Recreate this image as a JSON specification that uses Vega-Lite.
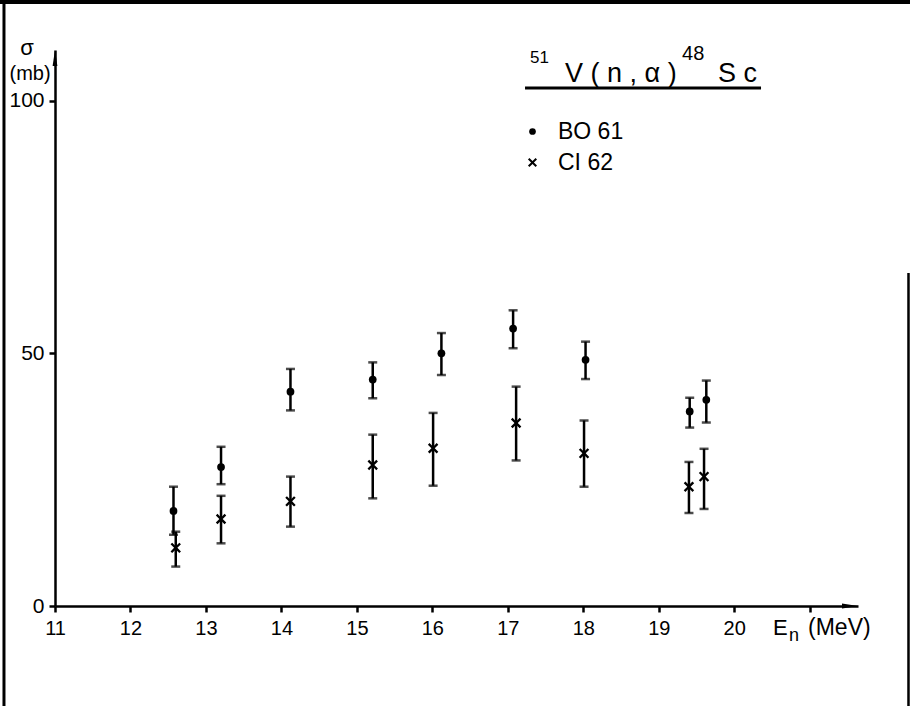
{
  "$schema": "https://vega.github.io/schema/vega-lite/v6.json",
  "width": 803,
  "height": 556,
  "autosize": {"type": "none"},
  "padding": {"left": 55, "top": 50, "right": 52, "bottom": 100},
  "background": "white",
  "config": {"view": {"stroke": null}, "font": "Liberation Sans", "text": {"color": "black", "font": "Liberation Sans"}},
  "datasets": {
    "points": [
      {"E": 12.57, "sigma": 18.8, "lo": 14.1, "hi": 23.6, "series": "BO 61"},
      {"E": 13.2, "sigma": 27.5, "lo": 24.1, "hi": 31.5, "series": "BO 61"},
      {"E": 14.12, "sigma": 42.4, "lo": 38.7, "hi": 46.9, "series": "BO 61"},
      {"E": 15.21, "sigma": 44.8, "lo": 41.1, "hi": 48.2, "series": "BO 61"},
      {"E": 16.12, "sigma": 50.0, "lo": 45.7, "hi": 54.0, "series": "BO 61"},
      {"E": 17.07, "sigma": 54.9, "lo": 51.0, "hi": 58.5, "series": "BO 61"},
      {"E": 18.03, "sigma": 48.7, "lo": 44.9, "hi": 52.3, "series": "BO 61"},
      {"E": 19.41, "sigma": 38.5, "lo": 35.3, "hi": 41.2, "series": "BO 61"},
      {"E": 19.63, "sigma": 40.8, "lo": 36.3, "hi": 44.6, "series": "BO 61"},
      {"E": 12.6, "sigma": 11.5, "lo": 7.8, "hi": 14.7, "series": "CI 62"},
      {"E": 13.2, "sigma": 17.2, "lo": 12.4, "hi": 21.8, "series": "CI 62"},
      {"E": 14.12, "sigma": 20.7, "lo": 15.7, "hi": 25.6, "series": "CI 62"},
      {"E": 15.21, "sigma": 27.9, "lo": 21.3, "hi": 33.9, "series": "CI 62"},
      {"E": 16.01, "sigma": 31.2, "lo": 23.8, "hi": 38.2, "series": "CI 62"},
      {"E": 17.11, "sigma": 36.2, "lo": 28.8, "hi": 43.4, "series": "CI 62"},
      {"E": 18.01, "sigma": 30.2, "lo": 23.6, "hi": 36.7, "series": "CI 62"},
      {"E": 19.4, "sigma": 23.6, "lo": 18.4, "hi": 28.5, "series": "CI 62"},
      {"E": 19.6, "sigma": 25.6, "lo": 19.2, "hi": 31.1, "series": "CI 62"}
    ]
  },
  "layer": [
    {
      "data": {"name": "points"},
      "mark": {"type": "rule", "color": "black", "strokeWidth": 2.5},
      "encoding": {
        "x": {"field": "E", "type": "quantitative",
          "scale": {"domain": [11, 21.64], "nice": false, "zero": false},
          "axis": {"title": null, "values": [11, 12, 13, 14, 15, 16, 17, 18, 19, 20, 21], "format": "d",
            "labelExpr": "datum.value > 20.5 ? '' : datum.label",
            "grid": false, "domainColor": "black", "domainWidth": 2.5, "tickColor": "black", "tickWidth": 2.5, "tickSize": 6,
            "labelFontSize": 20, "labelColor": "black", "labelPadding": 6, "labelFlush": false, "labelOverlap": false, "labelFont": "Liberation Sans"}},
        "y": {"field": "lo", "type": "quantitative",
          "scale": {"domain": [0, 110], "nice": false, "zero": false},
          "axis": {"title": null, "values": [0, 50, 100], "grid": false, "domainColor": "black", "domainWidth": 2.5,
            "tickColor": "black", "tickWidth": 2.5, "tickSize": 6, "labelFontSize": 21, "labelColor": "black",
            "labelPadding": 5, "labelFont": "Liberation Sans"}},
        "y2": {"field": "hi"}
      }
    },
    {
      "data": {"name": "points"},
      "mark": {"type": "tick", "orient": "horizontal", "color": "black", "size": 9, "thickness": 2.5},
      "encoding": {
        "x": {"field": "E", "type": "quantitative"},
        "y": {"field": "lo", "type": "quantitative"}
      }
    },
    {
      "data": {"name": "points"},
      "mark": {"type": "tick", "orient": "horizontal", "color": "black", "size": 9, "thickness": 2.5},
      "encoding": {
        "x": {"field": "E", "type": "quantitative"},
        "y": {"field": "hi", "type": "quantitative"}
      }
    },
    {
      "data": {"name": "points"},
      "mark": {"type": "point", "filled": true, "color": "black", "opacity": 1, "size": 60},
      "encoding": {
        "x": {"field": "E", "type": "quantitative"},
        "y": {"field": "sigma", "type": "quantitative"},
        "shape": {"field": "series", "type": "nominal",
          "scale": {"domain": ["BO 61", "CI 62"], "range": ["circle", "M0.919,-1.343L1.343,-0.919L0.424,0L1.343,0.919L0.919,1.343L0,0.424L-0.919,1.343L-1.343,0.919L-0.424,0L-1.343,-0.919L-0.919,-1.343L0,-0.424Z"]},
          "legend": {"orient": "none", "legendX": 466, "legendY": 70, "title": null, "labelFontSize": 23,
            "labelFont": "Liberation Sans", "labelColor": "black", "symbolSize": 45, "symbolFillColor": "black",
            "symbolStrokeWidth": 0, "labelOffset": 14, "rowPadding": 7, "padding": 0}}
      }
    },
    {
      "data": {"values": [{}]},
      "mark": {"type": "rule", "color": "black", "strokeWidth": 4},
      "encoding": {"x": {"datum": 10.271}, "x2": {"datum": 22.329}, "y": {"datum": 119.5}}
    },
    {
      "data": {"values": [{}]},
      "mark": {"type": "rule", "color": "black", "strokeWidth": 3},
      "encoding": {"x": {"datum": 10.324}, "y": {"datum": 119.5}, "y2": {"datum": -19.78}}
    },
    {
      "data": {"values": [{}]},
      "mark": {"type": "rule", "color": "black", "strokeWidth": 2.5},
      "encoding": {"x": {"datum": 22.309}, "y": {"datum": 65.88}, "y2": {"datum": -19.78}}
    },
    {
      "data": {"values": [{}]},
      "mark": {"type": "point", "shape": "M1,0L-1,-0.3L-1,0.3Z", "size": 256, "filled": true, "color": "black", "opacity": 1},
      "encoding": {"x": {"datum": 21.534}, "y": {"datum": 0}}
    },
    {
      "data": {"values": [{}]},
      "mark": {"type": "point", "shape": "M0,-1L-0.3,1L0.3,1Z", "size": 256, "filled": true, "color": "black", "opacity": 1},
      "encoding": {"x": {"datum": 11}, "y": {"datum": 108.42}}
    },
    {
      "data": {"values": [{}]},
      "mark": {"type": "text", "text": "51", "fontSize": 17, "align": "left", "baseline": "alphabetic"},
      "encoding": {"x": {"datum": 17.294}, "y": {"datum": 107.43}}
    },
    {
      "data": {"values": [{}]},
      "mark": {"type": "text", "text": "V ( n , α )", "fontSize": 27, "align": "left", "baseline": "alphabetic"},
      "encoding": {"x": {"datum": 17.758}, "y": {"datum": 103.67}}
    },
    {
      "data": {"values": [{}]},
      "mark": {"type": "text", "text": "48", "fontSize": 20, "align": "left", "baseline": "alphabetic"},
      "encoding": {"x": {"datum": 19.308}, "y": {"datum": 108.02}}
    },
    {
      "data": {"values": [{}]},
      "mark": {"type": "text", "text": "S c", "fontSize": 27, "align": "left", "baseline": "alphabetic"},
      "encoding": {"x": {"datum": 19.785}, "y": {"datum": 103.67}}
    },
    {
      "data": {"values": [{}]},
      "mark": {"type": "rule", "color": "black", "strokeWidth": 3},
      "encoding": {"x": {"datum": 17.228}, "x2": {"datum": 20.355}, "y": {"datum": 102.48}}
    },
    {
      "data": {"values": [{}]},
      "mark": {"type": "text", "text": "E", "fontSize": 22, "align": "left", "baseline": "alphabetic"},
      "encoding": {"x": {"datum": 20.514}, "y": {"datum": -5.74}}
    },
    {
      "data": {"values": [{}]},
      "mark": {"type": "text", "text": "n", "fontSize": 18, "align": "left", "baseline": "alphabetic"},
      "encoding": {"x": {"datum": 20.726}, "y": {"datum": -6.92}}
    },
    {
      "data": {"values": [{}]},
      "mark": {"type": "text", "text": "(MeV)", "fontSize": 23, "align": "left", "baseline": "alphabetic"},
      "encoding": {"x": {"datum": 20.978}, "y": {"datum": -5.74}}
    },
    {
      "data": {"values": [{}]},
      "mark": {"type": "text", "text": "σ", "fontSize": 22, "align": "center", "baseline": "alphabetic"},
      "encoding": {"x": {"datum": 10.629}, "y": {"datum": 109.0}}
    },
    {
      "data": {"values": [{}]},
      "mark": {"type": "text", "text": "(mb)", "fontSize": 20, "align": "center", "baseline": "alphabetic"},
      "encoding": {"x": {"datum": 10.669}, "y": {"datum": 104.07}}
    }
  ]
}
